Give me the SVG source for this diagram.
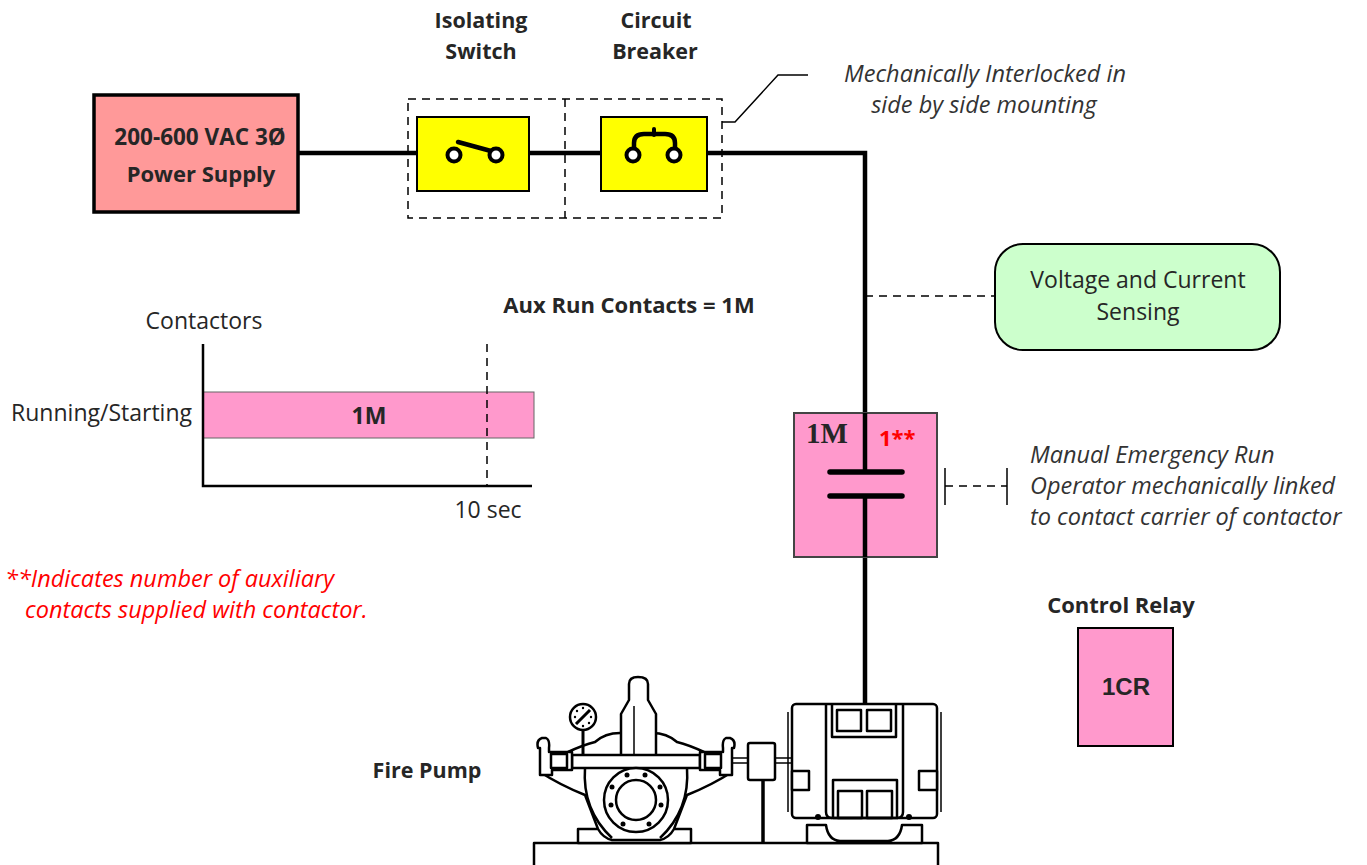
<svg xmlns="http://www.w3.org/2000/svg" width="1367" height="865" viewBox="0 0 1367 865">
<style>
text{font-family:"Open Sans",Lato,"Liberation Sans",sans-serif;fill:#262626}
.b{font-weight:bold}
.it{font-style:italic;fill:#333}
.red{fill:#ff0000}
.wire{stroke:#000;stroke-width:4.5;fill:none}
.dash{stroke:#000;stroke-width:1.5;fill:none;stroke-dasharray:8,6}
.pink{fill:#ff99cc}
.ln{stroke:#000;stroke-width:2.5;fill:none;stroke-linejoin:round}
.lnw{stroke:#000;stroke-width:2.5;fill:#fff;stroke-linejoin:round}
</style>
<rect width="1367" height="865" fill="#fff"/>

<g id="connectors">
  <path class="wire" d="M298,153 H446"/>
  <path class="wire" d="M504,153 H625"/>
  <path class="wire" d="M682,153 H865 V472"/>
  <path class="wire" d="M865,496 V704"/>
  <path class="dash" d="M865,296 H995"/>
  <polyline points="722,122 735,122 778,75 808,75" fill="none" stroke="#000" stroke-width="1.5"/>
  <path stroke="#000" stroke-width="1.5" fill="none" d="M945,468 V505 M1007,468 V505"/>
  <path class="dash" d="M945,486 H1007" stroke-dasharray="10,8"/>
</g>

<g id="power-supply">
  <rect x="94" y="95" width="204" height="117" fill="#ff9999" stroke="#000" stroke-width="3.5"/>
  <text x="200" y="145" font-size="22.5" class="b" text-anchor="middle">200-600 VAC 3Ø</text>
  <text x="201" y="182" font-size="22" class="b" text-anchor="middle">Power Supply</text>
</g>

<g id="interlock-box">
  <rect x="408" y="99" width="314" height="119" class="dash"/>
  <line x1="565" y1="99" x2="565" y2="218" class="dash"/>
</g>

<g id="isolating-switch">
  <text x="481" y="28" font-size="21.5" class="b" text-anchor="middle">Isolating</text>
  <text x="481" y="59" font-size="21.5" class="b" text-anchor="middle">Switch</text>
  <rect x="417" y="117" width="112" height="74" fill="#ffff00" stroke="#000" stroke-width="2"/>
  <line x1="458" y1="142" x2="491" y2="151" stroke="#000" stroke-width="4.5" stroke-linecap="round"/>
  <circle cx="454" cy="155" r="6.5" fill="#fff" stroke="#000" stroke-width="4"/>
  <circle cx="496" cy="155" r="6.5" fill="#fff" stroke="#000" stroke-width="4"/>
</g>

<g id="circuit-breaker">
  <text x="656" y="28" font-size="21.5" class="b" text-anchor="middle">Circuit</text>
  <text x="655" y="59" font-size="21.5" class="b" text-anchor="middle">Breaker</text>
  <rect x="601" y="117" width="106" height="74" fill="#ffff00" stroke="#000" stroke-width="2"/>
  <path d="M634,149 V143 Q634,134 644,134 H665 Q675,134 675,143 V149" fill="none" stroke="#000" stroke-width="4.5"/>
  <line x1="654" y1="129" x2="654" y2="135" stroke="#000" stroke-width="4" stroke-linecap="round"/>
  <circle cx="633" cy="155" r="6.5" fill="#fff" stroke="#000" stroke-width="4"/>
  <circle cx="674" cy="155" r="6.5" fill="#fff" stroke="#000" stroke-width="4"/>
</g>

<g id="interlock-note">
  <text x="985" y="82" font-size="23.5" class="it" text-anchor="middle">Mechanically Interlocked in</text>
  <text x="984" y="113" font-size="23.5" class="it" text-anchor="middle">side by side mounting</text>
</g>

<g id="sensing">
  <rect x="995" y="244" width="285" height="106" rx="28" fill="#ccffcc" stroke="#000" stroke-width="2"/>
  <text x="1138" y="288" font-size="23" text-anchor="middle" fill="#333">Voltage and Current</text>
  <text x="1138" y="320" font-size="23" text-anchor="middle" fill="#333">Sensing</text>
</g>

<g id="aux-label">
  <text x="629" y="313" font-size="22" class="b" text-anchor="middle">Aux Run Contacts = 1M</text>
</g>

<g id="timing-chart">
  <text x="204" y="329" font-size="23" text-anchor="middle">Contactors</text>
  <text x="192" y="421" font-size="23" text-anchor="end">Running/Starting</text>
  <rect x="203" y="392" width="331" height="46" class="pink" stroke="#666" stroke-width="1"/>
  <text x="369" y="424" font-size="23" class="b" text-anchor="middle">1M</text>
  <line x1="487" y1="344" x2="487" y2="486" class="dash"/>
  <path d="M203,344 V486 H532" fill="none" stroke="#000" stroke-width="2.5"/>
  <text x="488" y="518" font-size="23" text-anchor="middle">10 sec</text>
</g>

<g id="footnote">
  <text x="5" y="587" font-size="23.5" class="it red">**Indicates number of auxiliary</text>
  <text x="25" y="618" font-size="23.5" class="it red">contacts supplied with contactor.</text>
</g>

<g id="contactor-1M">
  <rect x="794" y="413" width="143" height="144" class="pink" stroke="#444" stroke-width="2"/>
  <path class="wire" d="M865,413 V472 M865,496 V557"/>
  <line x1="830" y1="472" x2="902" y2="472" stroke="#000" stroke-width="5.5" stroke-linecap="round"/>
  <line x1="830" y1="496" x2="902" y2="496" stroke="#000" stroke-width="5.5" stroke-linecap="round"/>
  <text x="806" y="443" font-size="29" font-weight="bold" style="font-family:'Liberation Serif','DejaVu Serif',serif" fill="#333">1M</text>
  <text x="879" y="446" font-size="22" class="b red">1**</text>
</g>

<g id="manual-note">
  <text x="1030" y="463" font-size="23.5" class="it">Manual Emergency Run</text>
  <text x="1030" y="494" font-size="23.5" class="it">Operator mechanically linked</text>
  <text x="1030" y="525" font-size="23.5" class="it">to contact carrier of contactor</text>
</g>

<g id="control-relay">
  <text x="1121" y="613" font-size="22" class="b" text-anchor="middle">Control Relay</text>
  <rect x="1078" y="628" width="95" height="118" class="pink" stroke="#000" stroke-width="2"/>
  <text x="1126" y="695" font-size="24" class="b" text-anchor="middle" style="font-family:'Liberation Sans',Arial,sans-serif">1CR</text>
</g>

<g id="fire-pump-label">
  <text x="427" y="778" font-size="21.5" class="b" text-anchor="middle">Fire Pump</text>
</g>

<g id="fire-pump">
  <rect x="534" y="843" width="404" height="25" class="lnw"/>
  <path class="lnw" d="M578,843 V829 H598 Q603,838 612,840 H660 Q669,838 674,829 H691 V843 Z"/>
  <path class="ln" d="M540,772 Q560,785 585,795 L598,829 M732,772 Q712,785 687,795 L674,829"/>
  <path class="ln" d="M585,768 Q582,810 612,838 M687,768 Q690,810 660,838"/>
  <path class="ln" d="M568,752 Q583,745 595,742 Q605,733 620,733 M704,752 Q689,745 677,742 Q667,733 652,733"/>
  <path class="lnw" d="M621,755 V714 L629,700 V684 Q629,677 638,677 Q648,677 648,684 V700 L656,714 V755"/>
  <line x1="634" y1="706" x2="634" y2="755" stroke="#000" stroke-width="1.5"/>
  <rect x="572" y="755" width="128" height="13" class="lnw"/>
  <path class="lnw" d="M540,775 V748 H538 Q536,740 542,738 H546 Q550,740 549,748 V752 H572 V770 H552 V775 Z"/>
  <rect x="551" y="754" width="16" height="14" class="ln" stroke-width="2"/>
  <path class="lnw" d="M732,775 V748 H734 Q736,740 730,738 H726 Q722,740 723,748 V752 H700 V770 H720 V775 Z"/>
  <rect x="705" y="754" width="16" height="14" class="ln" stroke-width="2"/>
  <circle cx="636" cy="800" r="32" class="lnw"/>
  <circle cx="636" cy="800" r="20" class="lnw"/>
  <g fill="#000">
    <circle cx="627" cy="775" r="2.5"/><circle cx="645" cy="775" r="2.5"/>
    <circle cx="660" cy="787" r="2.5"/><circle cx="661" cy="805" r="2.5"/>
    <circle cx="649" cy="824" r="2.5"/><circle cx="623" cy="824" r="2.5"/>
    <circle cx="611" cy="805" r="2.5"/><circle cx="612" cy="787" r="2.5"/>
  </g>
  <line x1="583" y1="730" x2="583" y2="755" stroke="#000" stroke-width="3"/>
  <circle cx="583" cy="717" r="13" class="lnw"/>
  <line x1="576" y1="724" x2="590" y2="710" stroke="#000" stroke-width="3"/>
  <g fill="#000">
    <circle cx="583" cy="708" r="1.2"/><circle cx="589" cy="711" r="1.2"/><circle cx="591" cy="717" r="1.2"/>
    <circle cx="589" cy="723" r="1.2"/><circle cx="583" cy="726" r="1.2"/><circle cx="577" cy="723" r="1.2"/>
    <circle cx="575" cy="717" r="1.2"/><circle cx="577" cy="711" r="1.2"/>
  </g>
  <path stroke="#000" stroke-width="1.5" fill="none" d="M733,758 H748 M733,763 H748 M775,758 H792 M775,763 H792"/>
  <rect x="748" y="743" width="27" height="37" rx="2" class="lnw"/>
  <line x1="763" y1="780" x2="763" y2="843" stroke="#000" stroke-width="3.5"/>
  <path class="lnw" d="M807,843 V825 H826 Q828,840 840,841 H888 Q900,840 902,825 H922 V843 Z"/>
  <rect x="792" y="704" width="145" height="114" rx="4" class="lnw"/>
  <path stroke="#000" stroke-width="1.5" fill="none" d="M788,712 V812 M941,712 V812"/>
  <path class="ln" d="M826,704 V812 Q826,818 832,818 M903,704 V812 Q903,818 897,818"/>
  <path class="ln" d="M832,704 V737 H896 V704"/>
  <rect x="837" y="710" width="24" height="21" class="ln"/>
  <rect x="867" y="710" width="24" height="21" class="ln"/>
  <rect x="833" y="780" width="64" height="38" class="ln"/>
  <rect x="838" y="791" width="24" height="27" class="ln"/>
  <rect x="867" y="791" width="25" height="27" class="ln"/>
  <rect x="792" y="771" width="17" height="19" class="lnw"/>
  <rect x="919" y="771" width="18" height="19" class="lnw"/>
  <circle cx="818" cy="817" r="3" fill="#000"/>
  <circle cx="909" cy="817" r="3" fill="#000"/>
</g>
</svg>
